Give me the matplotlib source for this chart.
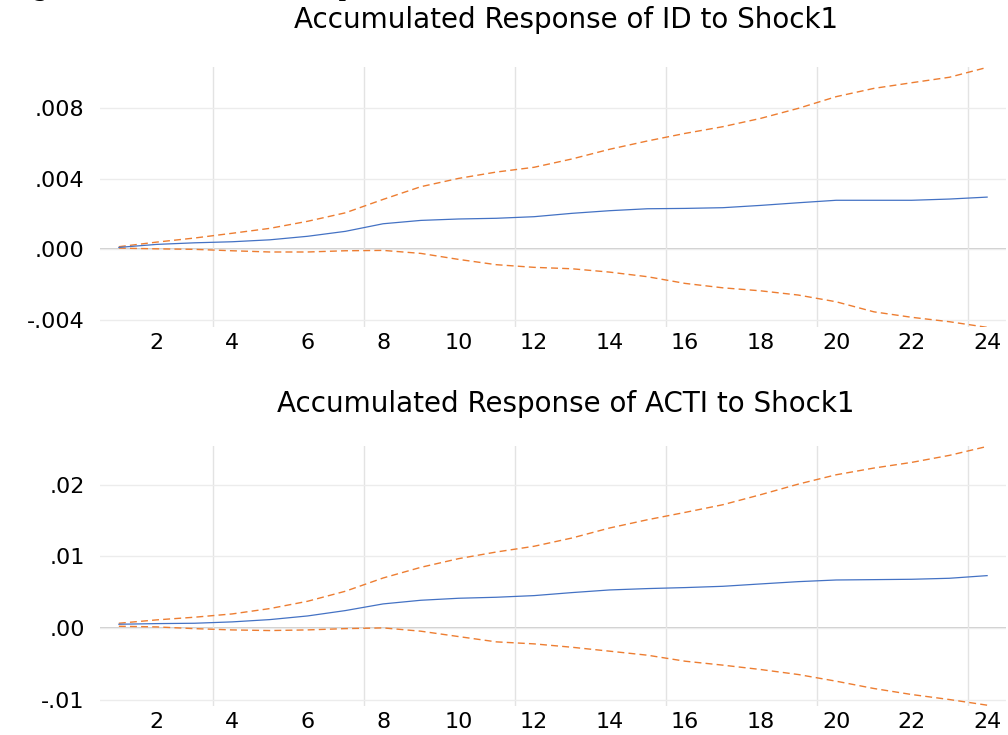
import matplotlib.pyplot as plt

# horizon (periods)
periods = list(range(1, 25))

# accumulated response of ID to Shock1
id_resp = [0.00011, 0.00028, 0.00037, 0.00043, 0.00054, 0.00074, 0.00102, 0.00145,
           0.00164, 0.00172, 0.00176, 0.00185, 0.00204, 0.00219, 0.00230, 0.00232,
           0.00236, 0.00249, 0.00264, 0.00278, 0.00278, 0.00278, 0.00285, 0.00296]
id_upper = [0.00015, 0.00041, 0.00064, 0.00091, 0.00119, 0.00159, 0.00207, 0.00283,
            0.00355, 0.00402, 0.00438, 0.00465, 0.00512, 0.00567, 0.00614, 0.00657,
            0.00695, 0.00742, 0.00799, 0.00865, 0.00912, 0.00944, 0.00975, 0.01031]
id_lower = [0.00007, 0.00003, 0.00000, -0.00008, -0.00015, -0.00015, -0.00008, -0.00006,
            -0.00023, -0.00057, -0.00087, -0.00102, -0.00110, -0.00129, -0.00155, -0.00193,
            -0.00218, -0.00235, -0.00259, -0.00297, -0.00354, -0.00385, -0.00410, -0.00442]

# accumulated response of ACTI to Shock1
acti_resp = [0.00051, 0.00060, 0.00065, 0.00084, 0.00116, 0.00167, 0.00242, 0.00335,
             0.00386, 0.00414, 0.00428, 0.00451, 0.00493, 0.00530, 0.00549, 0.00563,
             0.00581, 0.00614, 0.00646, 0.00669, 0.00674, 0.00679, 0.00693, 0.00730]
acti_upper = [0.00065, 0.00112, 0.00149, 0.00195, 0.00270, 0.00372, 0.00512, 0.00697,
              0.00846, 0.00967, 0.01060, 0.01140, 0.01255, 0.01395, 0.01510, 0.01613,
              0.01720, 0.01860, 0.02008, 0.02138, 0.02232, 0.02311, 0.02409, 0.02534]
acti_lower = [0.00023, 0.00014, -0.00010, -0.00028, -0.00037, -0.00028, -0.00010, 0.00000,
              -0.00046, -0.00121, -0.00195, -0.00223, -0.00270, -0.00325, -0.00381, -0.00465,
              -0.00520, -0.00581, -0.00651, -0.00744, -0.00846, -0.00930, -0.01000, -0.01079]

x_ticks = list(range(2, 25, 2))
id_yticks = [-0.004, 0.0, 0.004, 0.008]
id_ylabels = ['-.004', '.000', '.004', '.008']
acti_yticks = [-0.01, 0.0, 0.01, 0.02]
acti_ylabels = ['-.01', '.00', '.01', '.02']

titles = ['Accumulated Response of ID to Shock1', 'Accumulated Response of ACTI to Shock1']
caption = 'Figure 5: Accumulated Responses'

BLUE = '#4472C4'
ORANGE = '#ED7D31'


def draw_panel(ax, resp, upper, lower, yticks, ylabels, ylim):
    ax.set_xlim(0.5, 24.5)
    ax.set_ylim(*ylim)
    for s in ax.spines.values():
        s.set_visible(False)
    ax.set_xticks(x_ticks)
    ax.set_xticks([3.5 + 4 * i for i in range(6)], minor=True)
    ax.set_yticks(yticks)
    ax.set_yticklabels(ylabels)
    ax.tick_params(which='both', length=0, labelsize=16)
    ax.tick_params(axis='x', pad=4)
    ax.tick_params(axis='y', pad=11)
    ax.grid(which='minor', axis='x', color='#e3e3e3', lw=1)
    ax.grid(which='major', axis='y', color='#ececec', lw=1)
    ax.grid(which='major', axis='x', visible=False)
    ax.axhline(0, color='#c4c4c4', lw=1.2, zorder=1)
    ax.plot(periods, upper, color=ORANGE, lw=1.0, ls=(0, (5, 3)), zorder=3)
    ax.plot(periods, lower, color=ORANGE, lw=1.0, ls=(0, (5, 3)), zorder=3)
    ax.plot(periods, resp, color=BLUE, lw=0.9, zorder=4)


fig = plt.figure(figsize=(10.08, 7.35), dpi=100)
ax1 = fig.add_axes([0.0992, 0.5551, 0.8988, 0.3537])
ax2 = fig.add_axes([0.0992, 0.0395, 0.8988, 0.3537])

draw_panel(ax1, id_resp, id_upper, id_lower, id_yticks, id_ylabels, (-0.0044, 0.01033))
draw_panel(ax2, acti_resp, acti_upper, acti_lower, acti_yticks, acti_ylabels, (-0.0109, 0.0254))

fig.text(0.5615, 0.973, titles[0], ha='center', va='center', fontsize=20)
fig.text(0.5615, 0.4503, titles[1], ha='center', va='center', fontsize=20)
fig.text(0.008, 1.0075, caption, ha='left', va='baseline', fontsize=22,
         family='Liberation Serif', style='italic')

fig.savefig('out.png', dpi=100)
